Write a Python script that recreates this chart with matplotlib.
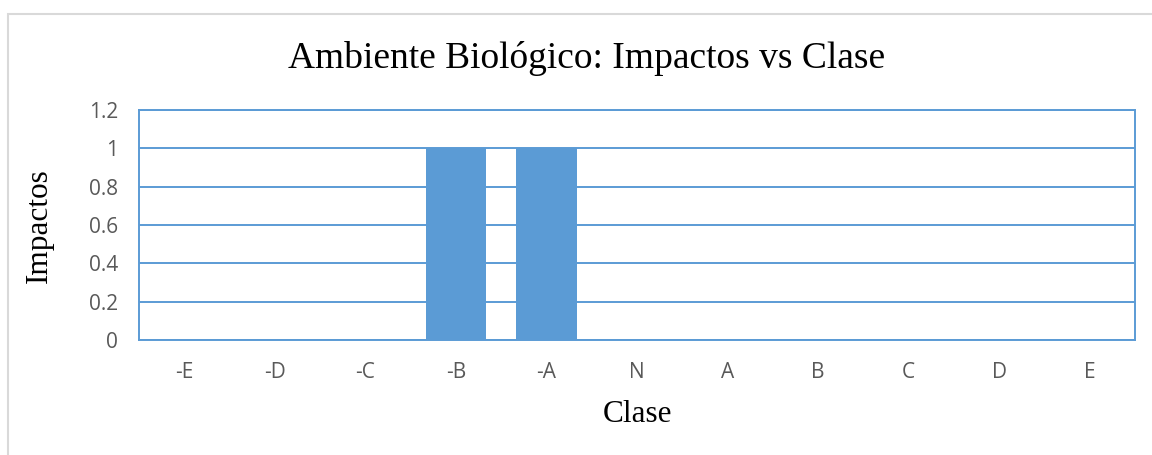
import matplotlib.pyplot as plt
from matplotlib.patches import Rectangle
import numpy as np

# data
clases = ["-E", "-D", "-C", "-B", "-A", "N", "A", "B", "C", "D", "E"]
impactos = [0, 0, 0, 1, 1, 0, 0, 0, 0, 0, 0]
yticks = [0, 0.2, 0.4, 0.6, 0.8, 1, 1.2]
ytick_labels = ["0", "0.2", "0.4", "0.6", "0.8", "1", "1.2"]

BLUE = "#5B9BD5"
GRAY_TXT = "#595959"

fig = plt.figure(figsize=(11.52, 4.55), dpi=100)
ax = fig.add_axes([0.1207, 0.2527, 0.8646, 0.5055])

# light gray chart-area border (runs off right/bottom like the screenshot)
fig.patches.append(Rectangle((0.0069, -0.05), 1.2, 1.019, transform=fig.transFigure,
                             fill=False, edgecolor="#D9D9D9", linewidth=1.5))

x = np.arange(len(clases))
ax.bar(x, impactos, width=0.67, color=BLUE, zorder=3)

ax.set_xlim(-0.5, len(clases) - 0.5)
ax.set_ylim(0, 1.2)
ax.set_yticks(yticks)
ax.set_yticklabels(ytick_labels)
ax.set_xticks(x)
ax.set_xticklabels(clases)
ax.tick_params(axis="both", length=0, labelsize=15, labelcolor=GRAY_TXT,
               labelfontfamily="Open Sans")
ax.tick_params(axis="x", pad=16)
ax.tick_params(axis="y", pad=15)

ax.grid(axis="y", color=BLUE, linewidth=1.4, zorder=1)
for s in ax.spines.values():
    s.set_color(BLUE)
    s.set_linewidth(1.4)

fig.text(0.5095, 0.8725, "Ambiente Biológico: Impactos vs Clase", ha="center", va="center",
         fontsize=27, family="Liberation Serif")
fig.text(0.553, 0.09, "Clase", ha="center", va="center",
         fontsize=22.5, family="Liberation Serif")
fig.text(0.034, 0.505, "Impactos", ha="center", va="center", rotation=90,
         fontsize=22.5, family="Liberation Serif")

fig.savefig("out.png", dpi=100, facecolor="white")
